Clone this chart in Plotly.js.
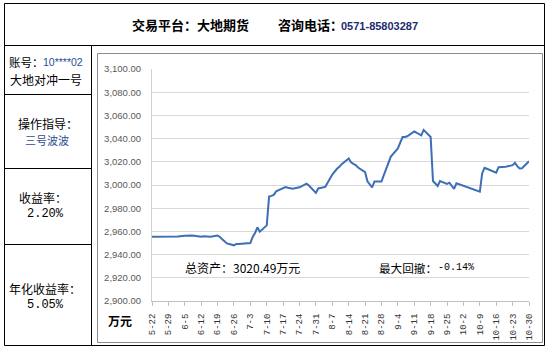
<!DOCTYPE html>
<html>
<head>
<meta charset="utf-8">
<script src="https://cdn.plot.ly/plotly-3.0.1.min.js"></script>
<style>html,body{margin:0;padding:0;background:#fff;}#chart{width:550px;height:351px;}</style>
</head>
<body>
<div id="chart"></div>
<script>
// ---- data ----
const dates = [
"2017-05-22","2017-05-23","2017-05-24","2017-05-25","2017-05-26",
"2017-05-31","2017-06-01","2017-06-02",
"2017-06-05","2017-06-06","2017-06-07","2017-06-08","2017-06-09",
"2017-06-12","2017-06-13","2017-06-14","2017-06-15","2017-06-16",
"2017-06-19","2017-06-20","2017-06-21","2017-06-22","2017-06-23",
"2017-06-26","2017-06-27","2017-06-28","2017-06-29","2017-06-30",
"2017-07-03","2017-07-04","2017-07-05","2017-07-06","2017-07-07",
"2017-07-10","2017-07-11","2017-07-12","2017-07-13","2017-07-14",
"2017-07-17","2017-07-18","2017-07-19","2017-07-20","2017-07-21",
"2017-07-24","2017-07-25","2017-07-26","2017-07-27","2017-07-28",
"2017-07-31","2017-08-01","2017-08-02","2017-08-03","2017-08-04",
"2017-08-07","2017-08-08","2017-08-09","2017-08-10","2017-08-11",
"2017-08-14","2017-08-15","2017-08-16","2017-08-17","2017-08-18",
"2017-08-21","2017-08-22","2017-08-23","2017-08-24","2017-08-25",
"2017-08-28","2017-08-29","2017-08-30","2017-08-31","2017-09-01",
"2017-09-04","2017-09-05","2017-09-06","2017-09-07","2017-09-08",
"2017-09-11","2017-09-12","2017-09-13","2017-09-14","2017-09-15",
"2017-09-18","2017-09-19","2017-09-20","2017-09-21","2017-09-22",
"2017-09-25","2017-09-26","2017-09-27","2017-09-28","2017-09-29",
"2017-10-09","2017-10-10","2017-10-11","2017-10-12","2017-10-13",
"2017-10-16","2017-10-17","2017-10-18","2017-10-19","2017-10-20",
"2017-10-23","2017-10-24","2017-10-25","2017-10-26","2017-10-27",
"2017-10-30"
];
const assets = [
2955.4,2955.4,2955.4,2955.4,2955.4,
2955.5,2955.5,2955.6,
2956.3,2956.5,2956.5,2956.4,2956.2,
2955.4,2955.8,2955.6,2955.5,2955.4,
2956.4,2955.2,2953.2,2951.2,2949.6,
2948.0,2949.2,2949.2,2949.3,2949.4,
2950.0,2955.2,2958.5,2963.5,2959.7,
2965.2,2990.0,2990.6,2991.5,2994.5,
2997.8,2998.2,2997.6,2997.2,2996.8,
2998.0,2999.0,3000.2,3001.2,2999.5,
2993.2,2997.0,2997.4,2997.8,2998.4,
3009.0,3012.0,3014.0,3015.8,3018.0,
3022.8,3019.5,3018.2,3017.2,3015.0,
3011.0,3003.2,3000.8,2998.0,3003.0,
3003.0,3008.5,3013.5,3018.5,3024.5,
3031.5,3035.8,3041.3,3041.4,3042.0,
3046.2,3045.0,3044.0,3042.8,3047.5,
3041.4,3003.4,3001.5,2999.1,3003.4,
3001.0,3002.0,2999.5,2996.6,3001.4,
2994.3,3010.0,3014.9,3014.0,3013.0,
3010.6,3015.4,3015.5,3015.6,3015.7,
3017.1,3019.1,3016.3,3014.3,3014.4,
3020.49
];
const tickDates = ["2017-05-22","2017-05-29","2017-06-05","2017-06-12","2017-06-19","2017-06-26",
"2017-07-03","2017-07-10","2017-07-17","2017-07-24","2017-07-31","2017-08-07","2017-08-14",
"2017-08-21","2017-08-28","2017-09-04","2017-09-11","2017-09-18","2017-09-25","2017-10-02",
"2017-10-09","2017-10-16","2017-10-23","2017-10-30"];
const tickLabels = ["5-22","5-29","6-5","6-12","6-19","6-26","7-3","7-10","7-17","7-24","7-31",
"8-7","8-14","8-21","8-28","9-4","9-11","9-18","9-25","10-2","10-9","10-16","10-23","10-30"];
const yRange = [2900, 3100];

// ---- layout helpers (pixel -> paper) ----
const L = 152, R = 21, T = 69, B = 50, W = 550, H = 351;
const PW = W - L - R, PH = H - T - B;
const X = px => (px - L) / PW;
const Y = py => (H - B - py) / PH;

const cjk = "Noto Sans CJK SC";
function ann(text, px, py, opts) {
  opts = opts || {};
  return {
    xref: "paper", yref: "paper", x: X(px), y: Y(py), text: text, showarrow: false,
    xanchor: opts.anchor || "left", yanchor: "middle",
    font: {family: opts.family || cjk, size: opts.size || 12, color: opts.color || "#000"}
  };
}
function line(x0, y0, x1, y1, color, w) {
  return {type: "line", xref: "paper", yref: "paper", x0: X(x0), y0: Y(y0), x1: X(x1), y1: Y(y1),
          line: {color: color || "#000", width: w || 1}};
}

const shapes = [
  {type: "rect", xref: "paper", yref: "paper", x0: X(4.5), x1: X(544.5), y0: Y(3.5), y1: Y(345.5),
   line: {color: "#000", width: 1}},
  line(4.5, 45.5, 544.5, 45.5),
  line(91.5, 45.5, 91.5, 345.5),
  line(4.5, 94.5, 91.5, 94.5),
  line(4.5, 168.5, 91.5, 168.5),
  line(4.5, 244.5, 91.5, 244.5),
  {type: "rect", xref: "paper", yref: "paper", x0: X(97.5), x1: X(542.5), y0: Y(53.5), y1: Y(342.5),
   line: {color: "#8c8c8c", width: 1}}
];

const annotations = [
  ann("<b>交易平台：大地期货</b>", 130, 25, {size: 13}),
  ann("<b>咨询电话：</b>", 276, 25, {size: 13}),
  ann("<b>0571-85803287</b>", 339, 25.5, {size: 11, family: "Liberation Sans", color: "#1c2d6e"}),
  ann("账号：", 7, 62, {size: 11.5}),
  ann("10****02", 41, 62, {size: 10.5, family: "Liberation Sans", color: "#1f4e9c"}),
  ann("大地对冲一号", 46, 79, {anchor: "center"}),
  ann("操作指导：", 48.5, 123, {anchor: "center"}),
  ann("三号波波", 46.5, 140, {anchor: "center", size: 11, color: "#2e4f8f"}),
  ann("收益率：", 42.5, 197, {anchor: "center"}),
  ann("2.20%", 45, 214, {anchor: "center", family: "Liberation Mono", size: 12}),
  ann("年化收益率：", 44.5, 288, {anchor: "center"}),
  ann("5.05%", 45, 305, {anchor: "center", family: "Liberation Mono", size: 12}),
  ann("总资产：3020.49万元", 183, 267.5, {size: 12}),
  ann("最大回撤：", 377, 267.5, {size: 11.6}),
  ann("-0.14%", 436, 267.5, {family: "Liberation Mono", size: 10}),
  ann("<b>万元</b>", 120, 320, {anchor: "center", size: 12})
];

const trace = {
  type: "scatter", mode: "lines", x: dates, y: assets,
  line: {color: "#3d6fb6", width: 2}, hoverinfo: "skip"
};

const layout = {
  width: W, height: H,
  margin: {l: L, r: R, t: T, b: B, pad: 0},
  paper_bgcolor: "#fff", plot_bgcolor: "#fff",
  showlegend: false,
  xaxis: {
    type: "date", range: [tickDates[0], tickDates[tickDates.length - 1]],
    tickmode: "array", tickvals: tickDates, ticktext: tickLabels,
    tickangle: -90, ticks: "outside", ticklen: 4, tickcolor: "#bfbfbf",
    showgrid: false, showline: true, linecolor: "#bfbfbf", linewidth: 1,
    zeroline: false, automargin: false, ticklabelstandoff: 4,
    tickfont: {family: "Liberation Mono", size: 9, color: "#333333"}
  },
  yaxis: {
    range: yRange, dtick: 20, tick0: 2900, tickformat: ",.2f",
    showgrid: true, gridcolor: "#d9d9d9", gridwidth: 1,
    showline: true, linecolor: "#d0d0d0", linewidth: 1,
    zeroline: false, ticks: "", automargin: false, ticklabelstandoff: 8,
    tickfont: {family: "Liberation Sans", size: 9.5, color: "#595959"}
  },
  shapes: shapes,
  annotations: annotations
};

Plotly.newPlot("chart", [trace], layout, {staticPlot: true, displayModeBar: false});
</script>
</body>
</html>
